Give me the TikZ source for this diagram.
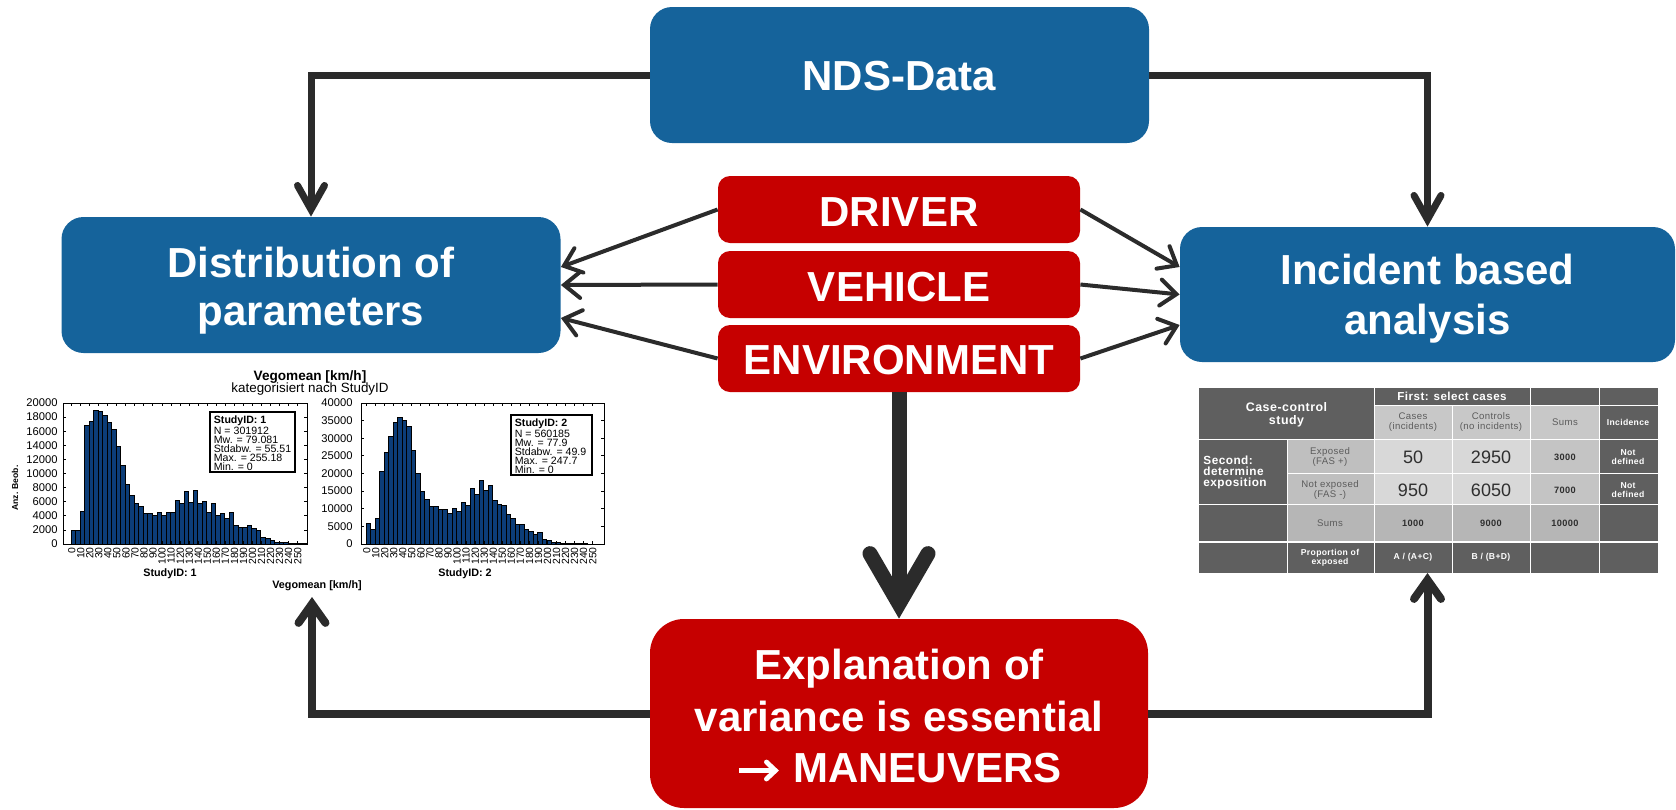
\documentclass[tikz,border=0pt]{standalone}
\usepackage{fontspec}
\setmainfont{Liberation Sans}
\newfontfamily\tabfont[LetterSpace=4]{Liberation Sans}
\usetikzlibrary{arrows.meta,calc}
\definecolor{boxblue}{HTML}{15639B}
\definecolor{boxred}{HTML}{C60000}
\definecolor{conn}{HTML}{2B2B2B}
\definecolor{barblue}{HTML}{0C3D78}
\definecolor{tdark}{HTML}{5F5F5F}
\definecolor{thead}{HTML}{C8C8C8}
\definecolor{tmid}{HTML}{BFBFBF}
\definecolor{tlight}{HTML}{D8D8D8}
\definecolor{tsumc}{HTML}{C4C4C4}
\definecolor{tsum}{HTML}{B6B6B6}
\definecolor{ttext}{HTML}{5C5C5C}
\definecolor{tnum}{HTML}{2E2E2E}
\newcommand\whitearrow{\tikz[baseline=0pt]{\draw[draw=white, line width=2.4pt,
  -{Straight Barb[length=4.5pt,width=8.5pt,line cap=round,line join=miter]}] (0pt,6pt) -- (20pt,6pt);}}
\begin{document}
\begin{tikzpicture}[x=0.5pt,y=-0.5pt,
  bluebox/.style={rounded corners=11pt, fill=boxblue, inner sep=0pt,
    minimum width=249.5pt, minimum height=68pt},
  redbox/.style={rounded corners=6pt, fill=boxred, inner sep=0pt,
    minimum width=181pt, minimum height=33.5pt},
  redbig/.style={rounded corners=17pt, fill=boxred, inner sep=0pt,
    minimum width=249pt, minimum height=94.5pt},
  boxtext/.style={text=white, font=\bfseries\fontsize{21pt}{24.5pt}\selectfont,
    align=center, inner sep=0pt},
  toparrow/.style={draw=conn, line width=3.5pt,
    -{Straight Barb[length=12pt,width=13.5pt,line cap=round,line join=miter]}},
  thinarrow/.style={draw=conn, line width=2pt,
    -{Straight Barb[length=8pt,width=13pt,line cap=round,line join=miter]}},
  bigarrow/.style={draw=conn, line width=7.5pt,
    -{Straight Barb[length=25pt,width=29pt,line cap=round,line join=miter]}},
  botarrow/.style={draw=conn, line width=4pt,
    -{Straight Barb[length=9.5pt,width=13.5pt,line cap=round,line join=miter]}},
  hbar/.style={fill=barblue, draw=black, line width=0.35pt},
  ytick/.style={anchor=east, inner sep=0pt, font=\fontsize{5.6pt}{6pt}\selectfont},
  xtick/.style={rotate=90, anchor=east, inner sep=0pt, font=\fontsize{5.2pt}{6pt}\selectfont},
  legtext/.style={anchor=north west, align=left, inner sep=0pt, font=\fontsize{5.3pt}{4.5pt}\selectfont},
  tlab/.style={inner sep=0pt, align=center, text=ttext, font=\tabfont\fontsize{4.8pt}{5pt}\selectfont},
  twhite/.style={inner sep=0pt, align=center, text=white, font=\tabfont\bfseries\fontsize{4.3pt}{4.6pt}\selectfont},
  tbig/.style={inner sep=0pt, text=tnum, font=\fontsize{9pt}{10pt}\selectfont},
  tbold/.style={inner sep=0pt, text=tnum, font=\tabfont\bfseries\fontsize{4.6pt}{5pt}\selectfont}
]
\useasboundingbox (0,0) rectangle (1676,809);

% ---------- main boxes ----------
\node[bluebox] (nds) at (899.5,75) {};
\node[boxtext] (ndsT) at (899.5,76) {NDS-Data};
\node[bluebox] (dist) at (311,285) {};
\node[boxtext, font=\bfseries\fontsize{21pt}{24pt}\selectfont] (distT) at (311,290.5) {Distribution of\\parameters};
\node[bluebox, minimum width=247.5pt, minimum height=67.5pt] (inc) at (1427.5,294.5) {};
\node[boxtext, font=\bfseries\fontsize{21pt}{25pt}\selectfont] (incT) at (1427.5,299) {Incident based\\analysis};
\node[redbox] (drv) at (899,209.5) {};
\node[boxtext] (drvT) at (899,212) {DRIVER};
\node[redbox] (veh) at (899,284.5) {};
\node[boxtext] (vehT) at (899,287) {VEHICLE};
\node[redbox] (env) at (899,358.5) {};
\node[boxtext] (envT) at (899,360) {ENVIRONMENT};
\node[redbig] (expl) at (899,713.5) {};
\node[boxtext, font=\bfseries\fontsize{21pt}{25.75pt}\selectfont] (explT) at (899,716) {Explanation of\\variance is essential\\\whitearrow{} MANEUVERS};

% ---------- histograms ----------
\node[font=\bfseries\fontsize{6.8pt}{8pt}\selectfont, inner sep=0pt] (htitle) at (310,377) {Vegomean [km/h]};
\node[font=\fontsize{6.7pt}{8pt}\selectfont, inner sep=0pt] (hsub) at (310,389) {kategorisiert nach StudyID};
\node[rotate=90, inner sep=0pt, font=\bfseries\fontsize{4.3pt}{5pt}\selectfont] (ylab) at (15,488) {Anz. Beob.};
\node[inner sep=0pt, font=\bfseries\fontsize{5.4pt}{6pt}\selectfont] (sid1) at (170,574) {StudyID: 1};
\node[inner sep=0pt, font=\bfseries\fontsize{5.4pt}{6pt}\selectfont] (sid2) at (465,574) {StudyID: 2};
\node[inner sep=0pt, font=\bfseries\fontsize{5.4pt}{6pt}\selectfont] (xlab) at (317,586) {Vegomean [km/h]};

% left chart
\foreach \v [count=\i from 0] in {2.0,2.0,4.7,16.8,17.4,19.0,18.8,18.2,17.3,16.2,13.8,11.1,8.5,6.9,5.8,5.4,4.3,4.3,4.0,4.5,4.0,4.5,4.5,6.2,5.8,7.4,5.9,7.6,5.8,6.1,4.5,5.7,4.1,4.3,3.6,4.5,2.7,2.4,2.4,2.6,2.2,1.9,0.9,0.8,0.5,0.3,0.3,0.2,0.1,0.1,0.1,0.1}
  \draw[hbar] ({71+\i*4.52},544) rectangle ({71+(\i+1)*4.52},{544-\v*7.05});
\draw[line width=0.5pt] (63,403) rectangle (307,544);
\foreach \v in {0,2,...,20} {
  \draw[line width=0.4pt] (63,{544-\v*7.05}) -- (66,{544-\v*7.05});
  \draw[line width=0.4pt] (307,{544-\v*7.05}) -- (304,{544-\v*7.05});
  \node[ytick] (yl\v) at (58,{544-\v*7.05}) {\ifnum\v=0 0\else\v000\fi};
}
\foreach \k in {0,...,25} {
  \pgfmathtruncatemacro\lab{\k*10}
  \draw[line width=0.4pt] ({71.5+\k*9.04},544) -- ({71.5+\k*9.04},541);
  \draw[line width=0.4pt] ({71.5+\k*9.04},403) -- ({71.5+\k*9.04},406);
  \node[xtick] (xa\k) at ({71.7+\k*9.04},547) {\lab};
}
\draw[fill=white, line width=0.7pt] (210,412) rectangle (295,472);
\node[legtext] (leg1) at (213.5,415) {\textbf{StudyID: 1}\\N = 301912\\Mw. = 79.081\\Stdabw. = 55.51\\Max. = 255.18\\Min. = 0};

% right chart
\foreach \v [count=\i from 0] in {5.8,4.2,7.2,20.5,26.0,30.5,34.5,35.8,35.0,33.3,26.5,20.0,14.9,12.8,10.6,10.6,9.8,9.8,8.8,10.2,9.3,11.8,11.0,15.8,14.1,18.1,15.2,16.6,12.4,11.3,11.0,8.4,7.3,5.6,5.6,4.2,3.6,2.7,3.3,1.4,1.1,0.5,0.4,0.2,0.2,0.1,0.1,0.1,0.05,0.0,0.0,0.0}
  \draw[hbar] ({366+\i*4.52},544) rectangle ({366+(\i+1)*4.52},{544-\v*3.525});
\draw[line width=0.5pt] (361,403) rectangle (604,544);
\foreach \v in {0,5,...,40} {
  \draw[line width=0.4pt] (361,{544-\v*3.525}) -- (364,{544-\v*3.525});
  \draw[line width=0.4pt] (604,{544-\v*3.525}) -- (601,{544-\v*3.525});
  \node[ytick] (yr\v) at (353,{544-\v*3.525}) {\ifnum\v=0 0\else\v000\fi};
}
\foreach \k in {0,...,25} {
  \pgfmathtruncatemacro\lab{\k*10}
  \draw[line width=0.4pt] ({366.5+\k*9.04},544) -- ({366.5+\k*9.04},541);
  \draw[line width=0.4pt] ({366.5+\k*9.04},403) -- ({366.5+\k*9.04},406);
  \node[xtick] (xb\k) at ({366.7+\k*9.04},547) {\lab};
}
\draw[fill=white, line width=0.7pt] (511,415) rectangle (592,475);
\node[legtext] (leg2) at (514.5,418) {\textbf{StudyID: 2}\\N = 560185\\Mw. = 77.9\\Stdabw. = 49.9\\Max. = 247.7\\Min. = 0};

% ---------- table ----------
\fill[white] (1199,388) rectangle (1658,573);
\fill[tdark] (1199,388) rectangle (1373.5,438.5);
\fill[tdark] (1374.5,388) rectangle (1529.5,404.5);
\fill[tdark] (1530.5,388) rectangle (1598.5,404.5);
\fill[tdark] (1599.5,388) rectangle (1658,404.5);
\fill[thead] (1374.5,405.5) rectangle (1451.5,438.5);
\fill[thead] (1452.5,405.5) rectangle (1529.5,438.5);
\fill[thead] (1530.5,405.5) rectangle (1598.5,438.5);
\fill[tdark] (1599.5,405.5) rectangle (1658,438.5);
\fill[tdark] (1199,439.5) rectangle (1286.5,503.5);
\fill[tmid] (1287.5,439.5) rectangle (1373.5,472.5);
\fill[tmid] (1287.5,473.5) rectangle (1373.5,503.5);
\fill[tlight] (1374.5,439.5) rectangle (1451.5,472.5);
\fill[tlight] (1452.5,439.5) rectangle (1529.5,472.5);
\fill[tlight] (1374.5,473.5) rectangle (1451.5,503.5);
\fill[tlight] (1452.5,473.5) rectangle (1529.5,503.5);
\fill[tsumc] (1530.5,439.5) rectangle (1598.5,472.5);
\fill[tsumc] (1530.5,473.5) rectangle (1598.5,503.5);
\fill[tdark] (1599.5,439.5) rectangle (1658,472.5);
\fill[tdark] (1599.5,473.5) rectangle (1658,503.5);
\fill[tdark] (1199,504.5) rectangle (1286.5,541);
\fill[tsum] (1287.5,504.5) rectangle (1373.5,541);
\fill[tsum] (1374.5,504.5) rectangle (1451.5,541);
\fill[tsum] (1452.5,504.5) rectangle (1529.5,541);
\fill[tsum] (1530.5,504.5) rectangle (1598.5,541);
\fill[tdark] (1599.5,504.5) rectangle (1658,541);
\fill[tdark] (1199,543) rectangle (1286.5,573);
\fill[tdark] (1287.5,543) rectangle (1373.5,573);
\fill[tdark] (1374.5,543) rectangle (1451.5,573);
\fill[tdark] (1452.5,543) rectangle (1529.5,573);
\fill[tdark] (1530.5,543) rectangle (1598.5,573);
\fill[tdark] (1599.5,543) rectangle (1658,573);

\node[inner sep=0pt, align=center, text=white, font=\tabfont\bfseries\fontsize{6.2pt}{6.5pt}\selectfont] (tcc) at (1286.5,414.5) {Case-control\\study};
\node[inner sep=0pt, text=white, font=\tabfont\bfseries\fontsize{5.8pt}{6pt}\selectfont] (tfirst) at (1452,396.5) {First: select cases};
\node[tlab] (tcases) at (1413,422) {Cases\\(incidents)};
\node[tlab] (tctrl) at (1491,422) {Controls\\(no incidents)};
\node[tlab] (tsums1) at (1565,422) {Sums};
\node[twhite] (tinc) at (1628,422) {Incidence};
\node[inner sep=0pt, align=left, anchor=west, text=white, font=\tabfont\bfseries\fontsize{5.9pt}{5.5pt}\selectfont] (tsec) at (1203,472) {Second:\\determine\\exposition};
\node[tlab] (texp) at (1330,457) {Exposed\\(FAS +)};
\node[tlab] (tnexp) at (1330,490) {Not exposed\\(FAS -)};
\node[tbig] (n50) at (1413,457) {50};
\node[tbig] (n2950) at (1491,457) {2950};
\node[tbig] (n950) at (1413,490) {950};
\node[tbig] (n6050) at (1491,490) {6050};
\node[tbold] (n3000) at (1565,457) {3000};
\node[tbold] (n7000) at (1565,490) {7000};
\node[twhite] (tnd1) at (1628,457) {Not\\defined};
\node[twhite] (tnd2) at (1628,490) {Not\\defined};
\node[tlab] (tsums2) at (1330,523) {Sums};
\node[tbold] (n1000) at (1413,523) {1000};
\node[tbold] (n9000) at (1491,523) {9000};
\node[tbold] (n10000) at (1565,523) {10000};
\node[twhite] (tprop) at (1330,557.5) {Proportion of\\exposed};
\node[twhite] (tac) at (1413,557.5) {A / (A+C)};
\node[twhite] (tbd) at (1491,557.5) {B / (B+D)};

% ---------- connectors ----------
\coordinate (histarrow) at (312,597);
\coordinate (tabarrow) at (1427.5,573);
\draw[toparrow] (nds.west) -| (dist.north);
\draw[toparrow] (nds.east) -| (inc.north);
\draw[thinarrow] (drv.west) -- ($(dist.east)+(0,-18)$);
\draw[thinarrow] (veh.west) -- (dist.east);
\draw[thinarrow] (env.west) -- ($(dist.east)+(0,33)$);
\draw[thinarrow] (drv.east) -- ($(inc.west)+(0,-27.5)$);
\draw[thinarrow] (veh.east) -- (inc.west);
\draw[thinarrow] (env.east) -- ($(inc.west)+(0,30.5)$);
\draw[bigarrow] (env.south) -- (expl.north);
\draw[botarrow] (expl.west) -| (histarrow);
\draw[botarrow] (expl.east) -| (tabarrow);
\end{tikzpicture}
\end{document}
